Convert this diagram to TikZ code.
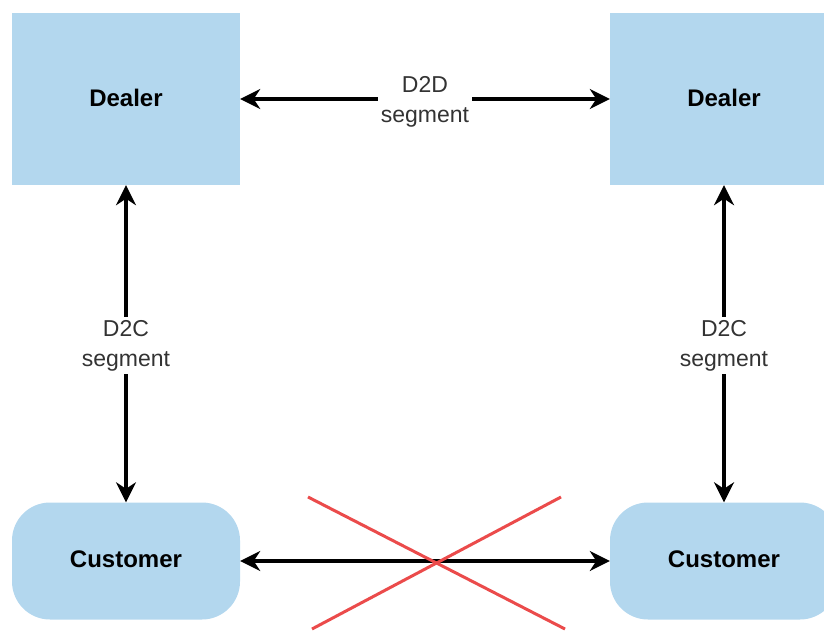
\documentclass[tikz,border=0pt]{standalone}
\usepackage{fontspec}
\setmainfont{Liberation Sans}
\usetikzlibrary{arrows.meta}
\definecolor{boxblue}{HTML}{B3D7EE}
\definecolor{xred}{HTML}{EB4B4B}
\begin{document}
\begin{tikzpicture}[x=1pt,y=-1pt,
  dealer/.style={rectangle,fill=boxblue,minimum width=228pt,minimum height=172pt,inner sep=0pt,font=\fontsize{24}{28}\selectfont\bfseries},
  cust/.style={rectangle,rounded corners=38pt,fill=boxblue,minimum width=228pt,minimum height=117pt,inner sep=0pt,font=\fontsize{24}{28}\selectfont\bfseries},
  conn/.style={line width=4pt,{Stealth[length=20pt,width=20pt]}-{Stealth[length=20pt,width=20pt]}},
  lbl/.style={fill=white,inner sep=3pt,align=center,font=\fontsize{23}{30}\selectfont,text=black!80},
  cross/.style={xred,line width=3pt}]
\useasboundingbox (0,0) rectangle (824,631);
\node[dealer] (d1) at (126,99) {\raisebox{3pt}{Dealer}};
\node[dealer] (d2) at (724,99) {\raisebox{3pt}{Dealer}};
\node[cust] (c1) at (126,561) {\raisebox{4pt}{Customer}};
\node[cust] (c2) at (724,561) {\raisebox{4pt}{Customer}};
\draw[conn] (d1.east) -- node[lbl,yshift=-3pt] {D2D\\segment} (d2.west);
\draw[conn] (d1.south) -- node[lbl,yshift=-2pt] {D2C\\segment} (c1.north);
\draw[conn] (d2.south) -- node[lbl,yshift=-2pt] {D2C\\segment} (c2.north);
\draw[conn] (c1.east) -- (c2.west);
\coordinate (xa) at (308,497);
\coordinate (xb) at (565,629);
\coordinate (xc) at (312,629);
\coordinate (xd) at (561,497);
\draw[cross] (xa) -- (xb);
\draw[cross] (xc) -- (xd);
\end{tikzpicture}
\end{document}
